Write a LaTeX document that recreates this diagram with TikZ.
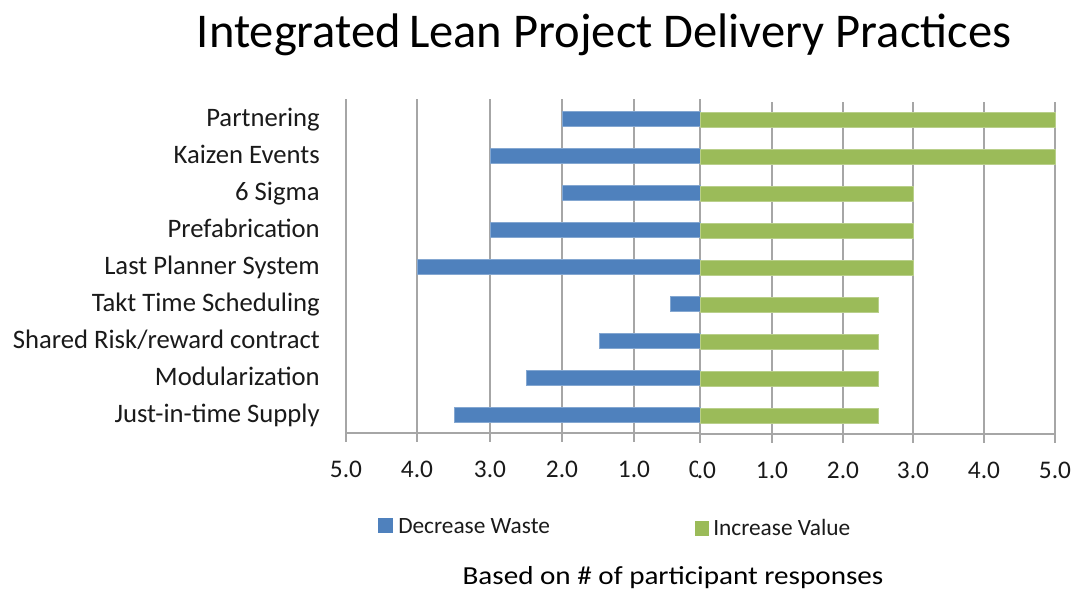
\documentclass[tikz,border=0pt]{standalone}
\usepackage{fontspec}
\setmainfont{Carlito}
\definecolor{barblue}{HTML}{4F81BD}
\definecolor{bargreen}{HTML}{9BBB59}
\definecolor{gridgray}{HTML}{A6A6A6}
\definecolor{txt}{HTML}{1A1A1A}
\begin{document}
\begin{tikzpicture}[x=0.75pt,y=-0.75pt,
  grid/.style={draw=gridgray,line width=1.1pt},
  bluebar/.style={fill=barblue,draw=barblue!70!white,line width=0.4pt},
  greenbar/.style={fill=bargreen,draw=bargreen!70!white,line width=0.4pt},
  cat/.style={anchor=base east,inner sep=0pt,font=\fontsize{20}{23}\selectfont,text=txt},
  tick/.style={anchor=base,inner sep=0pt,font=\fontsize{19}{22}\selectfont,text=txt},
  leg/.style={anchor=base west,inner sep=0pt,font=\fontsize{17.5}{20}\selectfont,text=txt}]
\useasboundingbox[fill=white] (0,0) rectangle (1075,590);
% title
\node[anchor=base,inner sep=0pt,font=\fontsize{36.4}{40}\selectfont,text=black] (title) at (604,47) {Integrated\,Lean Project Delivery Practices};
% left chart grid
\foreach \x in {417,490,562,634} \draw[grid] (\x,99) -- (\x,442);
\draw[grid] (346,99) -- (346,442);
\draw[grid] (346,433) -- (700,433);
% right chart grid
\foreach \x in {772,843,913,984,1055} \draw[grid] (\x,102) -- (\x,443);
\draw[grid] (700,99) -- (700,443);
\draw[grid] (700,434) -- (1055,434);
% bars
\foreach \l [count=\i from 0] in {562,490,562,490,417,670,599,526,454}{
  \pgfmathsetmacro{\yc}{118.5+37*\i}
  \draw[bluebar] (\l,\yc-7.5) rectangle (700,\yc+7.5);
}
\foreach \r [count=\i from 0] in {1055,1055,913,913,913,878,878,878,878}{
  \pgfmathsetmacro{\yc}{120+37*\i}
  \draw[greenbar] (700.5,\yc-7.5) rectangle (\r,\yc+7.5);
}
% category labels
\foreach \t [count=\i from 0] in {Partnering,Kaizen Events,6 Sigma,Prefabrication,Last Planner System,Takt Time Scheduling,Shared Risk/reward contract,Modularization,Just-in-time Supply}{
  \node[cat] (c\i) at (320,126+37*\i) {\t};
}
% tick labels
\node[tick] (l5) at (346,477) {5.0};
\node[tick] (l4) at (417,477) {4.0};
\node[tick] (l3) at (490,477) {3.0};
\node[tick] (l2) at (562,477) {2.0};
\node[tick] (l1) at (634,477) {1.0};
\begin{scope}
\clip (640,440) rectangle (697.5,490);
\node[tick] (l0) at (705,477) {0.0};
\end{scope}
\begin{scope}
\clip (698,440) rectangle (740,490);
\node[tick] (r0) at (700,478) {0.0};
\end{scope}
\node[tick] (r1) at (772,478) {1.0};
\node[tick] (r2) at (843,478) {2.0};
\node[tick] (r3) at (913,478) {3.0};
\node[tick] (r4) at (984,478) {4.0};
\node[tick] (r5) at (1055,478) {5.0};
% legend
\fill[barblue] (378,518) rectangle (393,533);
\node[leg] (lw) at (398,533) {Decrease Waste};
\fill[bargreen] (695,521) rectangle (709,536);
\node[leg] (lv) at (713,535) {Increase Value};
\node[anchor=base,inner sep=0pt,xscale=1.12,font=\fontsize{19.5}{22}\selectfont,text=black] (note) at (673,584) {Based on \# of participant responses};
\end{tikzpicture}
\end{document}
